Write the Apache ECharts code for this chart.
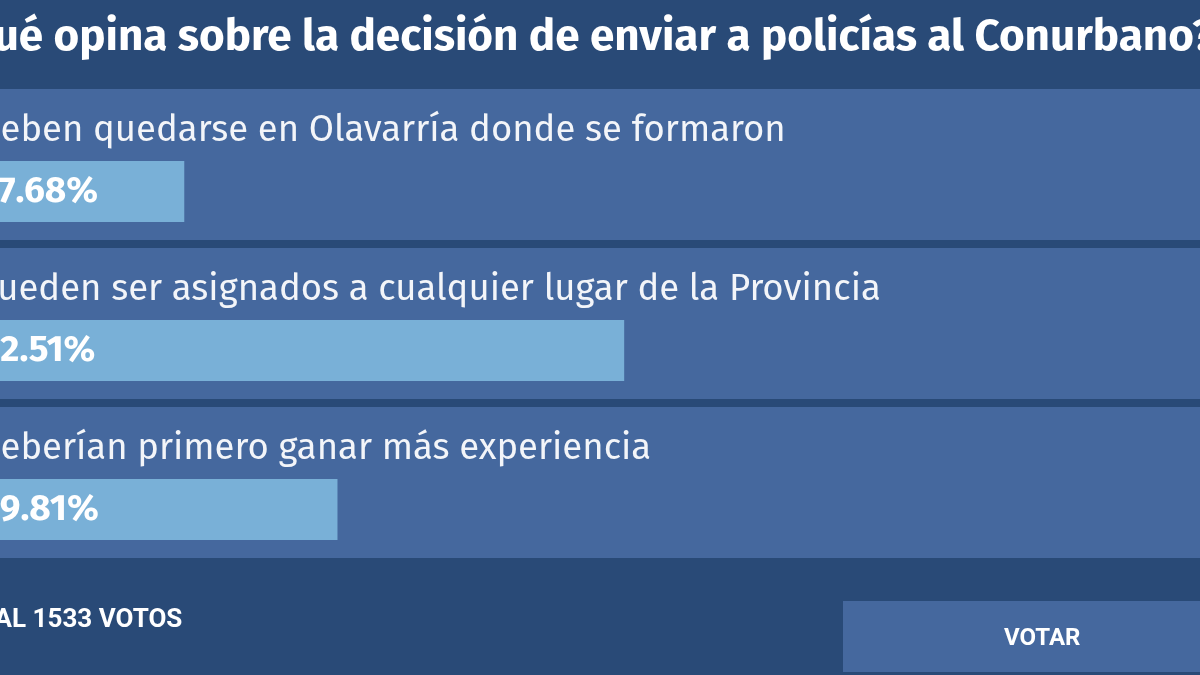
<!DOCTYPE html>
<html>
<head>
<meta charset="utf-8">
<title>Encuesta</title>
<script src="https://cdn.jsdelivr.net/npm/echarts@6/dist/echarts.min.js"></script>
<style>
  html, body { margin: 0; padding: 0; background: #294a77; }
  #chart { width: 1200px; height: 675px; }
</style>
</head>
<body>
<div id="chart"></div>
<script>
// datos de la encuesta
var pregunta = "¿Qué opina sobre la decisión de enviar a policías al Conurbano?";
var opciones = [
  "Deben quedarse en Olavarría donde se formaron",
  "Pueden ser asignados a cualquier lugar de la Provincia",
  "Deberían primero ganar más experiencia"
];
var porcentajes = [17.68, 52.51, 29.81];
var totalVotos = 1533;
// la captura esta recortada: solo se ve de 3.09% a 98.1% del ancho del widget
var escala = [3.09, 98.1];

var fondo = "#294a77";
var franja = "#45689e";
var relleno = "#79b0d7";
var fuente = "'Fira Sans', 'Open Sans', sans-serif";

var myChart = echarts.init(document.getElementById("chart"));

myChart.setOption({
  backgroundColor: fondo,
  animation: false,
  title: [
    {
      text: pregunta,
      left: -57,
      top: 16,
      padding: 0,
      textStyle: { color: "#ffffff", fontSize: 44, fontWeight: "bold", fontFamily: fuente }
    },
    {
      text: "TOTAL " + totalVotos + " VOTOS",
      left: -53,
      top: 607,
      padding: 0,
      textStyle: { color: "#ffffff", fontSize: 26, fontWeight: "bold", fontFamily: "Roboto" }
    }
  ],
  grid: [
    { left: 0, right: 0, top: 112, bottom: 86 },
    { left: 0, right: 0, top: 85, bottom: 113 }
  ],
  xAxis: [
    { type: "value", min: escala[0], max: escala[1], show: false },
    { type: "value", min: escala[0], max: escala[1], show: false, gridIndex: 1 }
  ],
  yAxis: [
    { type: "category", data: opciones, inverse: true, show: false },
    { type: "category", data: opciones, inverse: true, show: false, gridIndex: 1 }
  ],
  series: [
    {
      // franja clara detras de cada opcion
      type: "bar",
      xAxisIndex: 1,
      yAxisIndex: 1,
      silent: true,
      barWidth: 151,
      data: opciones.map(function() { return escala[1]; }),
      itemStyle: { color: franja },
      label: {
        show: true,
        formatter: "{b}",
        position: [-23, 41.5],
        align: "left",
        verticalAlign: "middle",
        color: "#f3f5f9",
        fontSize: 36.5,
        fontFamily: fuente
      }
    },
    {
      type: "bar",
      silent: true,
      barWidth: 61,
      data: porcentajes,
      showBackground: true,
      backgroundStyle: { color: fondo },
      itemStyle: { color: relleno },
      label: {
        show: true,
        position: [-19, "50%"],
        align: "left",
        verticalAlign: "middle",
        formatter: function(p) { return p.value.toFixed(2) + "%"; },
        color: "#ffffff",
        fontSize: 37,
        fontWeight: "bold",
        fontFamily: fuente
      }
    }
  ],
  graphic: [
    {
      type: "rect",
      left: 843,
      top: 601,
      shape: { width: 400, height: 71 },
      style: { fill: franja },
      silent: true
    },
    {
      type: "text",
      left: 1004,
      top: 627,
      style: { text: "VOTAR", fill: "#ffffff", font: "bold 24px Roboto" },
      silent: true
    }
  ]
});

window.addEventListener("resize", function() {
  myChart.resize();
});
</script>
</body>
</html>
